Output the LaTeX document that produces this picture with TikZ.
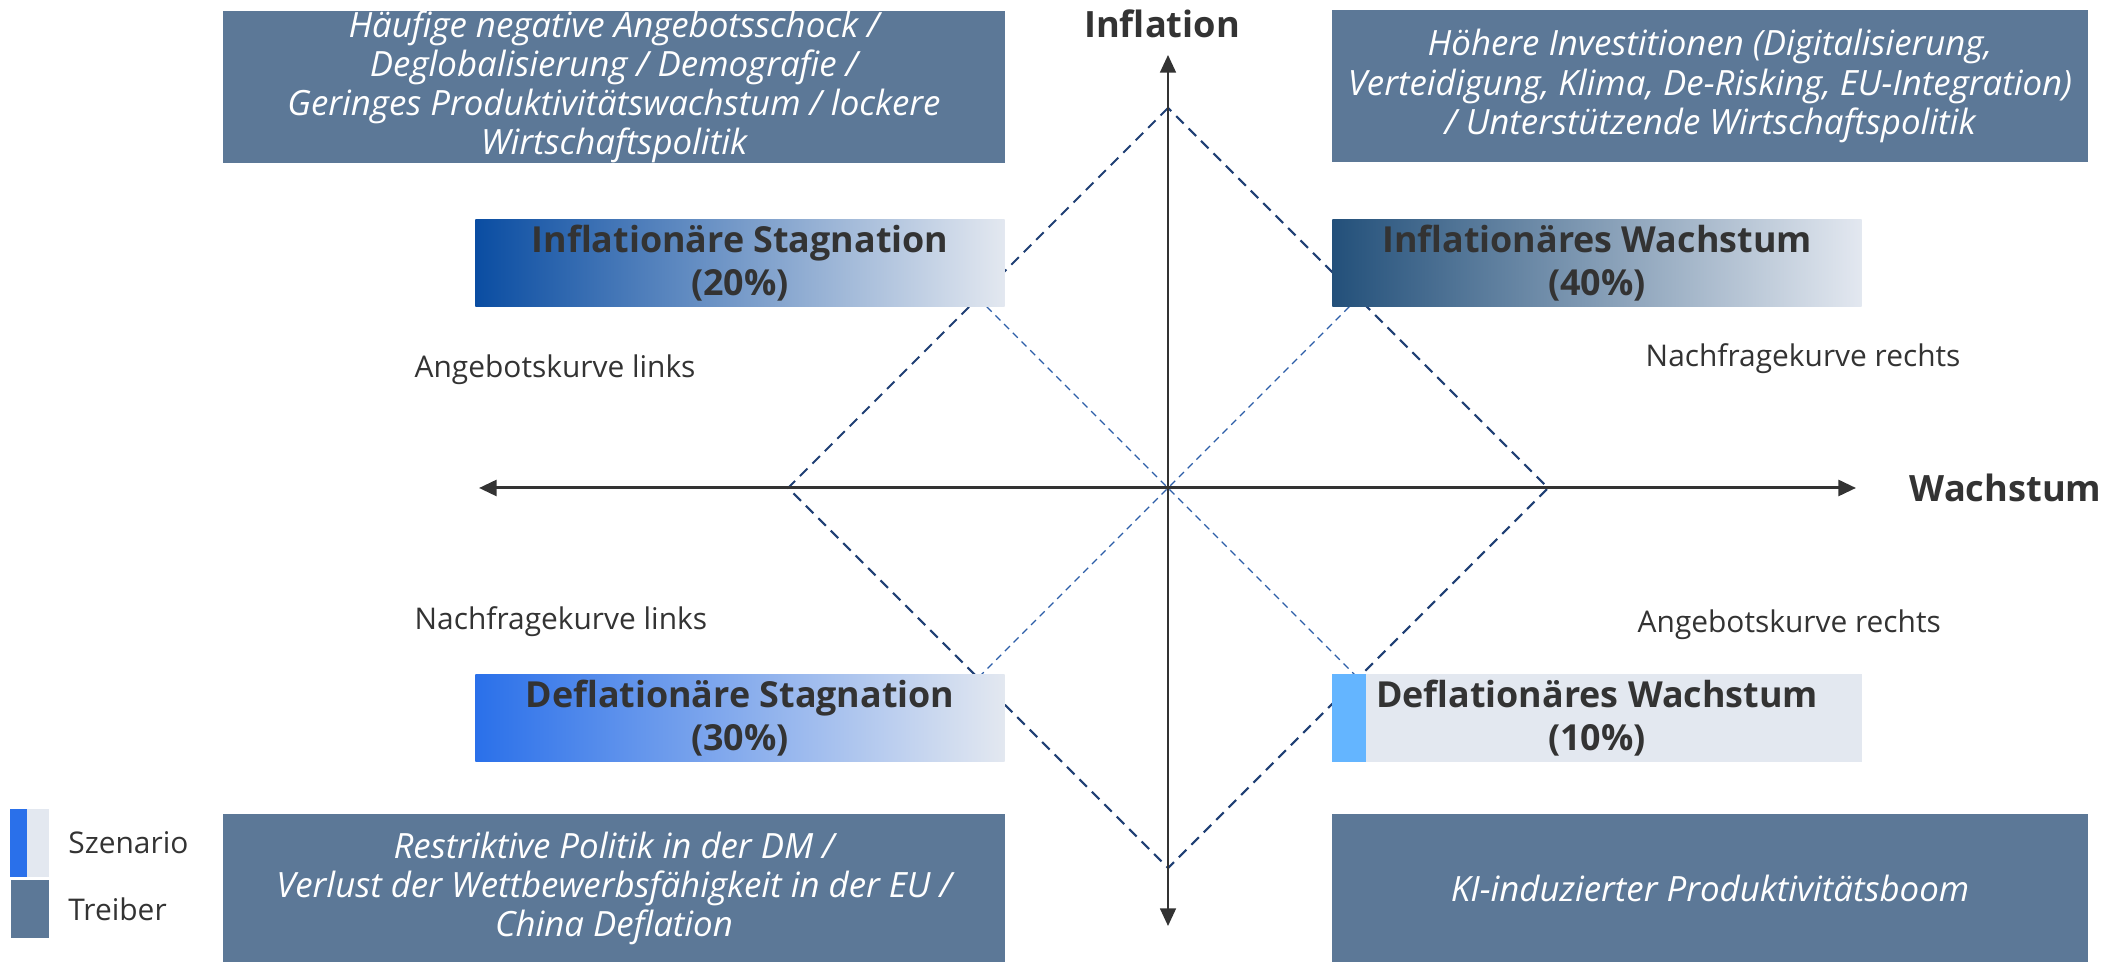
\documentclass[tikz,border=0pt]{standalone}
\usepackage{fontspec}
\setmainfont{Open Sans}
\usetikzlibrary{arrows.meta, positioning}
\definecolor{treiber}{HTML}{5C7897}
\definecolor{scenlight}{HTML}{E3E8F0}
\definecolor{isdark}{HTML}{0A4DA2}
\definecolor{iwdark}{HTML}{23507A}
\definecolor{dsdark}{HTML}{2A70EA}
\definecolor{dwstrip}{HTML}{64B5FF}
\definecolor{textdark}{HTML}{333333}
\definecolor{navy}{HTML}{1F3F74}
\definecolor{xblue}{HTML}{2C5EA8}

\begin{document}
\begin{tikzpicture}[x=0.01cm,y=-0.01cm,
  treiberbox/.style={fill=treiber,text=white,align=center,inner sep=0pt,
    font=\fontsize{9.9}{11.1}\selectfont\itshape},
  scenbox/.style={align=center,inner sep=0pt,minimum width=5.29cm,minimum height=0.87cm,
    text=textdark,font=\fontsize{10.2}{12.3}\selectfont\bfseries},
  curvelabel/.style={anchor=west,text=textdark,inner sep=0pt,font=\fontsize{8.5}{10}\selectfont},
  axislabel/.style={text=textdark,inner sep=0pt,font=\fontsize{10.3}{12}\selectfont\bfseries},
  shiftline/.style={draw=navy,line width=0.6pt,dash pattern=on 3pt off 2pt},
  crossline/.style={draw=xblue,line width=0.35pt,dash pattern=on 2pt off 1.5pt},
  axisline/.style={draw=textdark,{Triangle[length=5pt,width=4.5pt]}-{Triangle[length=5pt,width=4.5pt]}}]
\useasboundingbox (0,0) rectangle (2116,962);
% Diamond corners and crossing points
\coordinate (O) at (1168,488);
\coordinate (top) at (1168,108);
\coordinate (bot) at (1168,868);
\coordinate (lft) at (788,488);
\coordinate (rgt) at (1548,488);
\coordinate (pis) at (978,298);
\coordinate (piw) at (1358,298);
\coordinate (pds) at (978,678);
\coordinate (pdw) at (1358,678);
\draw[shiftline] (top) -- (lft) -- (bot) -- (rgt) -- cycle;
\draw[crossline] (pis) -- (O) -- (pdw);
\draw[crossline] (piw) -- (O) -- (pds);
% Axes
\coordinate (xl) at (479,488);
\coordinate (xr) at (1856,488);
\coordinate (yt) at (1168,55);
\coordinate (yb) at (1168,926);
\draw[axisline,line width=0.85pt] (xl) -- (xr);
\draw[axisline,line width=0.55pt] (yt) -- (yb);
\node[axislabel] (inflation) at (1162,24) {Inflation};
\node[axislabel,anchor=west] (wachstum) at (1909,488) {Wachstum};
% Drivers
\node[treiberbox,minimum width=7.82cm,minimum height=1.52cm] (treibtl) at (614,87)
  {Häufige negative Angebotsschock /\\ Deglobalisierung / Demografie /\\ Geringes Produktivitätswachstum / lockere\\ Wirtschaftspolitik};
\node[treiberbox,minimum width=7.56cm,minimum height=1.52cm] (treibtr) at (1710,86)
  {Höhere Investitionen (Digitalisierung,\\ Verteidigung, Klima, De-Risking, EU-Integration)\\ / Unterstützende Wirtschaftspolitik};
\node[treiberbox,minimum width=7.82cm,minimum height=1.48cm] (treibbl) at (614,888)
  {Restriktive Politik in der DM /\\ Verlust der Wettbewerbsfähigkeit in der EU /\\ China Deflation};
\node[treiberbox,minimum width=7.56cm,minimum height=1.48cm] (treibbr) at (1710,888)
  {KI-induzierter Produktivitätsboom};
% Scenarios
\node[scenbox,left color=isdark,middle color=isdark!55!scenlight,right color=scenlight] (infstag) at (740,263)
  {Inflationäre Stagnation\\ (20\%)};
\node[scenbox,left color=iwdark,middle color=iwdark!55!scenlight,right color=scenlight] (infwachs) at (1597,263)
  {Inflationäres Wachstum\\ (40\%)};
\node[scenbox,left color=dsdark,middle color=dsdark!55!scenlight,right color=scenlight] (defstag) at (740,718)
  {Deflationäre Stagnation\\ (30\%)};
\node[scenbox,fill=scenlight] (defwachs) at (1597,718) {Deflationäres Wachstum\\ (10\%)};
\fill[dwstrip] (defwachs.north west) rectangle ([shift={(34,0)}]defwachs.south west);
% Curve shifts
\node[curvelabel] (angl) at (414,370) {Angebotskurve links};
\node[curvelabel] (nachr) at (1645,359) {Nachfragekurve rechts};
\node[curvelabel] (nachl) at (414,622) {Nachfragekurve links};
\node[curvelabel] (angr) at (1637,625) {Angebotskurve rechts};
% Legend
\node[fill=scenlight,inner sep=0pt,minimum width=0.38cm,minimum height=0.67cm] (legscen) at (30,843) {};
\fill[dsdark] (legscen.north west) rectangle ([shift={(17,0)}]legscen.south west);
\node[fill=treiber,inner sep=0pt,minimum width=0.38cm,minimum height=0.58cm] (legtreib) at (30,909) {};
\node[curvelabel,right=0.18cm of legscen] (legscentxt) {Szenario};
\node[curvelabel,right=0.18cm of legtreib] (legtreibtxt) {Treiber};
\end{tikzpicture}
\end{document}
